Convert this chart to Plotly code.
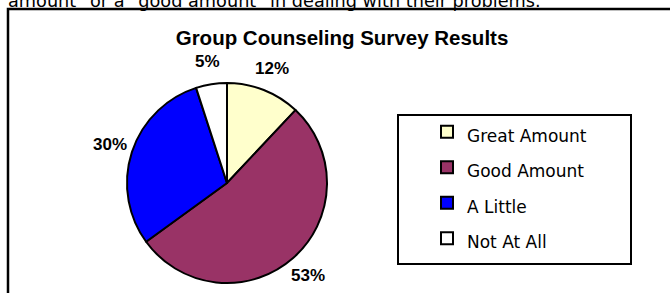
import math
import plotly.graph_objects as go

W, H = 670, 293

categories = ["Great Amount", "Good Amount", "A Little", "Not At All"]
values = [12, 53, 30, 5]
colors = ["#FFFFCC", "#993366", "#0000FF", "#FFFFFF"]
title_text = "Group Counseling Survey Results"
top_text = 'amount" or a "good amount" in dealing with their problems.'

# pie geometry in pixels
PIE_CX, PIE_CY, PIE_R = 227, 183, 100
LABEL_R = 123


def px_x(x):
    return x / W


def px_y(y):
    return 1 - y / H


legend_labels = ['<span style="font-size:17px">%s</span>' % c for c in categories]

fig = go.Figure()
fig.add_trace(go.Pie(
    labels=legend_labels,
    values=values,
    sort=False,
    direction="clockwise",
    rotation=0,
    marker=dict(colors=colors, line=dict(color="black", width=2)),
    textinfo="none",
    domain=dict(x=[px_x(PIE_CX - PIE_R), px_x(PIE_CX + PIE_R)],
                y=[px_y(PIE_CY + PIE_R), px_y(PIE_CY - PIE_R)]),
    hoverinfo="label+percent",
))

# percentage labels placed outside each slice, at the slice's mid-angle
total = sum(values)
annotations = []
cum = 0
for v in values:
    mid = (cum + v / 2) / total * 2 * math.pi
    cum += v
    lx = PIE_CX + LABEL_R * math.sin(mid)
    ly = PIE_CY - LABEL_R * math.cos(mid)
    annotations.append(dict(
        text="<b>%d%%</b>" % round(v / total * 100),
        xref="paper", yref="paper", x=px_x(lx), y=px_y(ly),
        xanchor="center", yanchor="middle", showarrow=False,
        font=dict(family="Liberation Sans, Arial", size=17, color="black"),
    ))

annotations.append(dict(text=top_text, xref="paper", yref="paper", x=px_x(6), y=px_y(0.5),
                        xanchor="left", yanchor="middle", showarrow=False,
                        font=dict(family="DejaVu Sans, Verdana", size=17.7, color="black")))

shapes = [
    # outer frame (left and top edges)
    dict(type="path", xref="paper", yref="paper",
         path="M %f,%f L %f,%f L %f,%f" % (px_x(8), px_y(300), px_x(8), px_y(9), px_x(680), px_y(9)),
         line=dict(color="black", width=2.5)),
    # legend box
    dict(type="rect", xref="paper", yref="paper",
         x0=px_x(398), x1=px_x(631), y0=px_y(264), y1=px_y(115),
         line=dict(color="black", width=2)),
]

fig.update_layout(
    width=W, height=H,
    margin=dict(l=0, r=0, t=0, b=0),
    paper_bgcolor="white",
    plot_bgcolor="white",
    title=dict(text="<b>%s</b>" % title_text, x=px_x(342), xanchor="center",
               y=px_y(38), yanchor="middle",
               font=dict(family="Liberation Sans, Arial", size=20.5, color="black")),
    showlegend=True,
    legend=dict(x=px_x(427), y=px_y(109), xanchor="left", yanchor="top",
                bgcolor="rgba(0,0,0,0)", borderwidth=0,
                font=dict(family="DejaVu Sans, Verdana", size=25, color="black")),
    shapes=shapes,
    annotations=annotations,
)

fig.write_html("out.html", config={"displayModeBar": False},
               post_script="document.body.style.margin='0px';")
